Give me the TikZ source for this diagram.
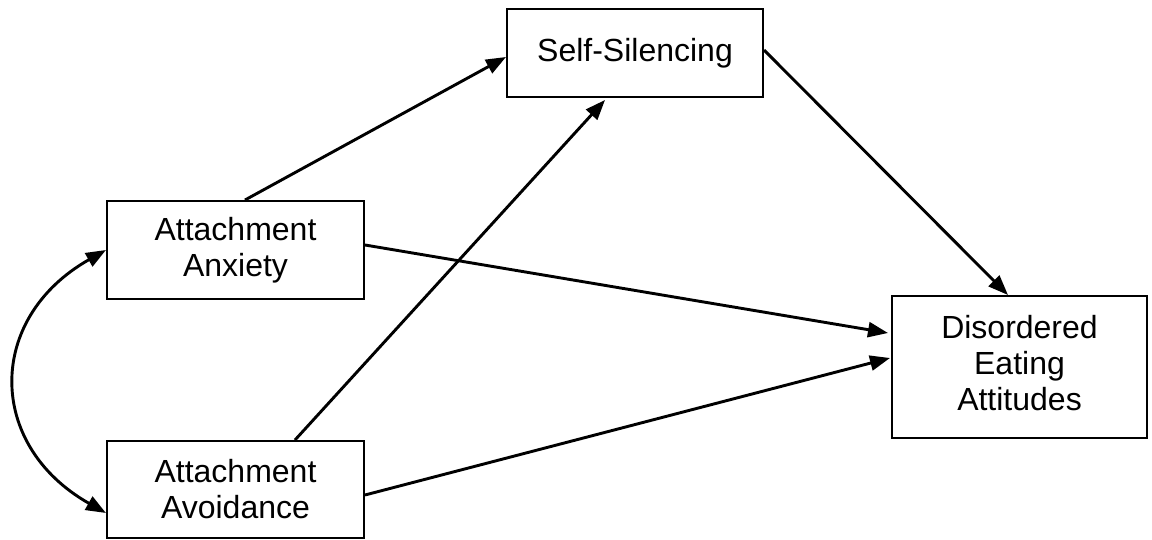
\documentclass[tikz,border=0pt]{standalone}
\usepackage{fontspec}
\setmainfont{Liberation Sans}
\usetikzlibrary{arrows.meta,calc}
\begin{document}
\begin{tikzpicture}[x=0.5pt,y=-0.5pt,
  varbox/.style={draw=black,line width=1pt,inner sep=0pt,align=center,
    font=\fontsize{16}{18}\selectfont},
  path/.style={line width=1.45pt,-{Triangle[length=10pt,width=7.5pt]}},
  dpath/.style={line width=1.45pt,{Triangle[length=10pt,width=7.5pt]}-{Triangle[length=10pt,width=7.5pt]}}]
\useasboundingbox (0,0) rectangle (1152,540);
\node[varbox,minimum width=128pt,minimum height=44pt] (ss) at (635,53) {Self-Silencing};
\node[varbox,minimum width=128.5pt,minimum height=49pt] (anx) at (235.5,250) {Attachment\\Anxiety};
\node[varbox,minimum width=128.5pt,minimum height=48.5pt] (avo) at (235.5,489.5) {Attachment\\Avoidance};
\node[varbox,minimum width=127.5pt,minimum height=71pt] (de) at (1019.5,367) {\raisebox{3pt}{\begin{tabular}{@{}c@{}}Disordered\\Eating\\Attitudes\end{tabular}}};
\draw[path] ($(anx.north)+(9.5,0)$) -- ($(ss.west)+(0,4)$);
\draw[path] ($(avo.north)+(59.5,0)$) -- ($(ss.south)+(-30,2)$);
\draw[path] ($(ss.east)+(0,-3)$) -- ($(de.north)+(-11.5,0)$);
\draw[path] ($(anx.east)+(0,-5)$) -- ($(de.west)+(-3,-34)$);
\draw[path] ($(avo.east)+(0,5.5)$) -- ($(de.west)+(-1,-9)$);
\coordinate (cs) at (anx.west);
\coordinate (ce) at ($(avo.west)+(0,23.5)$);
\draw[dpath] (cs) .. controls ($(cs)+(-120,68)$) and ($(ce)+(-120,-68)$) .. (ce);
\end{tikzpicture}
\end{document}
